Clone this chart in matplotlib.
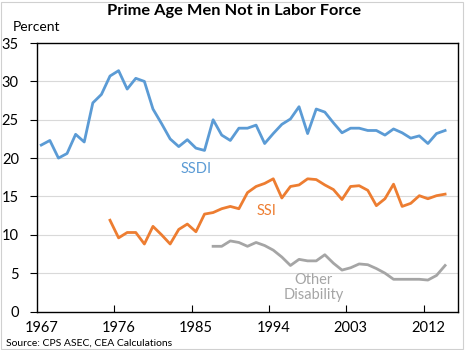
import numpy as np
import matplotlib
matplotlib.use("Agg")
import matplotlib.pyplot as plt
from matplotlib.patches import Rectangle

plt.rcParams["font.family"] = ["Lato", "DejaVu Sans"]

ssdi_years = list(range(1967, 2015))
ssdi = [21.7, 22.3, 20.0, 20.6, 23.1, 22.1, 27.2, 28.3, 30.7, 31.4,
        29.0, 30.4, 30.0, 26.4, 24.5, 22.5, 21.5, 22.4, 21.3, 21.0,
        25.0, 23.0, 22.3, 23.9, 23.9, 24.3, 21.9, 23.2, 24.4, 25.1,
        26.7, 23.2, 26.4, 26.0, 24.6, 23.3, 23.9, 23.9, 23.6, 23.6,
        23.0, 23.8, 23.3, 22.6, 22.9, 21.9, 23.2, 23.6]

ssi_years = list(range(1975, 2015))
ssi = [11.9, 9.6, 10.3, 10.3, 8.8, 11.1, 10.0, 8.8, 10.7, 11.4,
       10.4, 12.7, 12.9, 13.4, 13.7, 13.4, 15.5, 16.3, 16.7, 17.3,
       14.8, 16.3, 16.5, 17.3, 17.2, 16.5, 15.9, 14.6, 16.3, 16.4,
       15.8, 13.8, 14.7, 16.6, 13.7, 14.1, 15.1, 14.7, 15.1, 15.3]

other_years = list(range(1987, 2015))
other = [8.5, 8.5, 9.2, 9.0, 8.5, 9.0, 8.6, 8.0, 7.1, 6.0,
         6.8, 6.6, 6.6, 7.4, 6.3, 5.4, 5.7, 6.2, 6.1, 5.6,
         5.0, 4.2, 4.2, 4.2, 4.2, 4.1, 4.7, 6.0]

tick_years = [1967, 1976, 1985, 1994, 2003, 2012]

blue = "#5B9BD5"
orange = "#ED7D31"
gray = "#A5A5A5"

fig = plt.figure(figsize=(4.68, 3.5), dpi=100)
ax = fig.add_axes([0.079, 0.110, 0.8996, 0.767])

ax.plot(ssdi_years, ssdi, color=blue, lw=2)
ax.plot(ssi_years, ssi, color=orange, lw=2)
ax.plot(other_years, other, color=gray, lw=2)

ax.set_xlim(1966.5, 2015.5)
ax.set_ylim(0, 35)
ax.set_yticks(range(0, 36, 5))
ax.set_xticks(tick_years)
ax.set_xticks([y - 0.5 for y in tick_years[1:]], minor=True)
ax.tick_params(axis="x", which="major", length=0, pad=7, labelsize=10.5)
ax.tick_params(axis="x", which="minor", direction="in", length=5, width=0.8)
ax.tick_params(axis="y", direction="out", length=5, width=0.8, pad=8, labelsize=10.5)
for v in range(5, 35, 5):
    ax.axhline(v, color="#D9D9D9", lw=0.8, zorder=0)
for s in ax.spines.values():
    s.set_linewidth(1.0)
    s.set_color("black")

ax.text(1985.0, 18.6, "SSDI", color=blue, fontsize=10.5, ha="center", va="center")
ax.text(1993.2, 13.1, "SSI", color=orange, fontsize=10.5, ha="center", va="center")
ax.text(1998.7, 3.1, "Other\nDisability", color=gray, fontsize=10.5,
        ha="center", va="center", linespacing=1.05)

fig.text(0.5, 0.968, "Prime Age Men Not in Labor Force", ha="center", va="center",
         fontsize=11.8, fontweight="bold")
fig.text(0.027, 0.923, "Percent", ha="left", va="center", fontsize=10)
fig.text(0.013, 0.02, "Source: CPS ASEC, CEA Calculations", ha="left", va="center",
         fontsize=7.5)

fig.patches.append(Rectangle((0.002, 0.003), 0.988, 0.992, transform=fig.transFigure,
                             fill=False, edgecolor="#D0D0D0", lw=0.8))

fig.savefig("out.png", dpi=100)
